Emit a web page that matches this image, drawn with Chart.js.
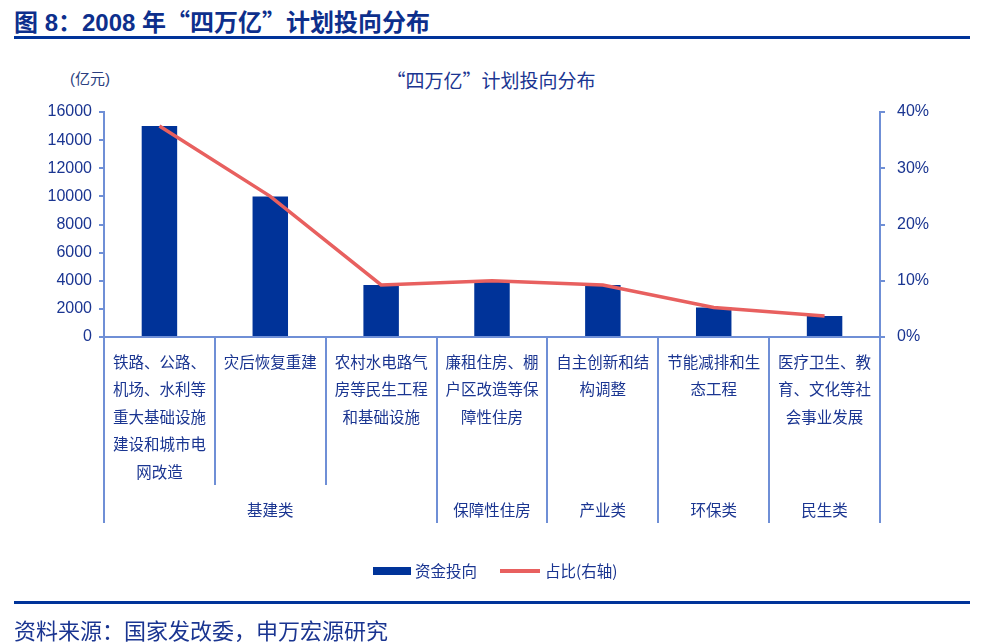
<!DOCTYPE html>
<html>
<head>
<meta charset="utf-8">
<script src="https://cdn.jsdelivr.net/npm/chart.js@4/dist/chart.umd.min.js"></script>
<style>
  body { margin: 0; width: 982px; height: 642px; background: #fff; position: relative; overflow: hidden;
         font-family: "Liberation Sans", "Noto Sans CJK SC", sans-serif; color: #1a3591; }
  .q { font-family: "Noto Sans CJK SC", sans-serif; }
  #head { position: absolute; left: 14px; top: 3px; font-size: 24px; font-weight: bold; color: #0d2f8c; }
  #headLine { position: absolute; left: 14px; top: 36px; width: 956px; height: 3px; background: #003399; }
  #unit { position: absolute; left: 70px; top: 67px; font-size: 15px; color: #2b3f80; }
  #ctitle { position: absolute; left: 0; width: 982px; top: 66px; text-align: center; font-size: 19px; color: #1a3591; }
  #footLine { position: absolute; left: 14px; top: 601px; width: 956px; height: 3px; background: #003399; }
  #source { position: absolute; left: 14px; top: 613px; font-size: 22px; color: #1a3591; }
  canvas { position: absolute; left: 0; top: 0; }
</style>
</head>
<body>
<div id="head">图 8：2008 年<span class="q">“四万亿”</span>计划投向分布</div>
<div id="headLine"></div>
<div id="unit">(亿元)</div>
<div id="ctitle"><span class="q">“四万亿”</span>计划投向分布</div>
<canvas id="myChart" width="982" height="642"></canvas>
<div id="footLine"></div>
<div id="source">资料来源：国家发改委，申万宏源研究</div>
<script>
// ***** datos *****
const categories = [
  ["铁路、公路、", "机场、水利等", "重大基础设施", "建设和城市电", "网改造"],
  ["灾后恢复重建"],
  ["农村水电路气", "房等民生工程", "和基础设施"],
  ["廉租住房、棚", "户区改造等保", "障性住房"],
  ["自主创新和结", "构调整"],
  ["节能减排和生", "态工程"],
  ["医疗卫生、教", "育、文化等社", "会事业发展"]
]
const groupNames = ["基建类", "保障性住房", "产业类", "环保类", "民生类"]
const groupSizes = [3, 1, 1, 1, 1]
const investValues = [15000, 10000, 3700, 4000, 3700, 2100, 1500]
const shareValues = [0.375, 0.25, 0.0925, 0.10, 0.0925, 0.0525, 0.0375]
const leftTicks = [0, 2000, 4000, 6000, 8000, 10000, 12000, 14000, 16000]
const rightTicks = [0, 0.1, 0.2, 0.3, 0.4]

const navy = "#003399"
const red = "#e8605f"
const axisBlue = "#6f8fd6"
const textBlue = "#1a3591"
const cjkFont = '"Noto Sans CJK SC", sans-serif'

// ***** plugin: eje de categorias en dos niveles + leyenda *****
const multiAxis = {
  id: "multiAxis",
  afterDraw(chart) {
    const c = chart.ctx
    const x = chart.scales.x
    const area = chart.chartArea
    const n = categories.length
    const step = (area.right - area.left) / n
    const edge = i => area.left + step * i
    c.save()
    c.strokeStyle = axisBlue
    c.lineWidth = 2
    // separadores
    let groupStart = 0
    const groupEdges = [0]
    groupSizes.forEach(s => { groupStart += s; groupEdges.push(groupStart) })
    for (let i = 0; i <= n; i++) {
      const long = groupEdges.includes(i)
      const px = Math.round(edge(i))
      c.beginPath()
      c.moveTo(px, area.bottom)
      c.lineTo(px, long ? area.bottom + 186 : area.bottom + 148)
      c.stroke()
    }
    // textos de categoria
    c.fillStyle = textBlue
    c.font = "15.5px " + cjkFont
    c.textAlign = "center"
    c.textBaseline = "middle"
    categories.forEach((lines, i) => {
      const cx = x.getPixelForValue(i)
      lines.forEach((t, k) => c.fillText(t, cx, area.bottom + 25 + k * 27.5))
    })
    // grupos
    groupNames.forEach((g, j) => {
      const cx = (edge(groupEdges[j]) + edge(groupEdges[j + 1])) / 2
      c.fillText(g, cx, area.bottom + 173)
    })
    // leyenda
    const bars = chart.data.datasets.find(d => d.type === "bar")
    const line = chart.data.datasets.find(d => d.type === "line")
    const ly = 571
    c.fillStyle = navy
    c.fillRect(373, ly - 4, 38, 8)
    c.fillStyle = textBlue
    c.textAlign = "left"
    c.fillText(bars.label, 415, ly)
    c.strokeStyle = red
    c.lineWidth = 4
    c.beginPath()
    c.moveTo(500, ly)
    c.lineTo(540, ly)
    c.stroke()
    c.fillText(line.label, 545, ly)
    c.restore()
  }
}

const tickFont = { size: 16, family: '"Liberation Sans", sans-serif' }

const ctx = document.getElementById("myChart").getContext("2d")
const myChart = new Chart(ctx, {
  data: {
    labels: categories.map(l => l.join("")),
    datasets: [
      {
        type: "line",
        label: "占比(右轴)",
        data: shareValues,
        yAxisID: "y1",
        borderColor: red,
        borderWidth: 3.5,
        pointRadius: 0,
        tension: 0,
        order: 0
      },
      {
        type: "bar",
        label: "资金投向",
        data: investValues,
        yAxisID: "y",
        backgroundColor: navy,
        barPercentage: 0.32,
        categoryPercentage: 1,
        order: 1
      }
    ]
  },
  options: {
    responsive: false,
    animation: false,
    layout: { padding: { left: 0, right: 0, top: 112, bottom: 642 - 337 } },
    plugins: { legend: { display: false }, tooltip: { enabled: false } },
    scales: {
      x: {
        grid: { display: false, drawTicks: false },
        ticks: { display: false },
        border: { color: axisBlue, width: 2 },
        afterFit: s => { s.height = 0 }
      },
      y: {
        position: "left",
        min: 0,
        max: 16000,
        afterBuildTicks: s => { s.ticks = leftTicks.map(v => ({ value: v })) },
        ticks: { color: textBlue, font: tickFont, padding: 7, callback: v => String(v) },
        grid: { drawOnChartArea: false, tickLength: 5, color: axisBlue, lineWidth: 2 },
        border: { color: axisBlue, width: 2 },
        afterFit: s => { s.width = 104 }
      },
      y1: {
        position: "right",
        min: 0,
        max: 0.4,
        afterBuildTicks: s => { s.ticks = rightTicks.map(v => ({ value: v })) },
        ticks: {
          color: textBlue,
          font: tickFont,
          padding: 12,
          callback: v => Math.round(v * 100) + "%"
        },
        grid: { drawOnChartArea: false, tickLength: 5, color: axisBlue, lineWidth: 2 },
        border: { color: axisBlue, width: 2 },
        afterFit: s => { s.width = 982 - 880 }
      }
    }
  },
  plugins: [multiAxis]
})
</script>
</body>
</html>
